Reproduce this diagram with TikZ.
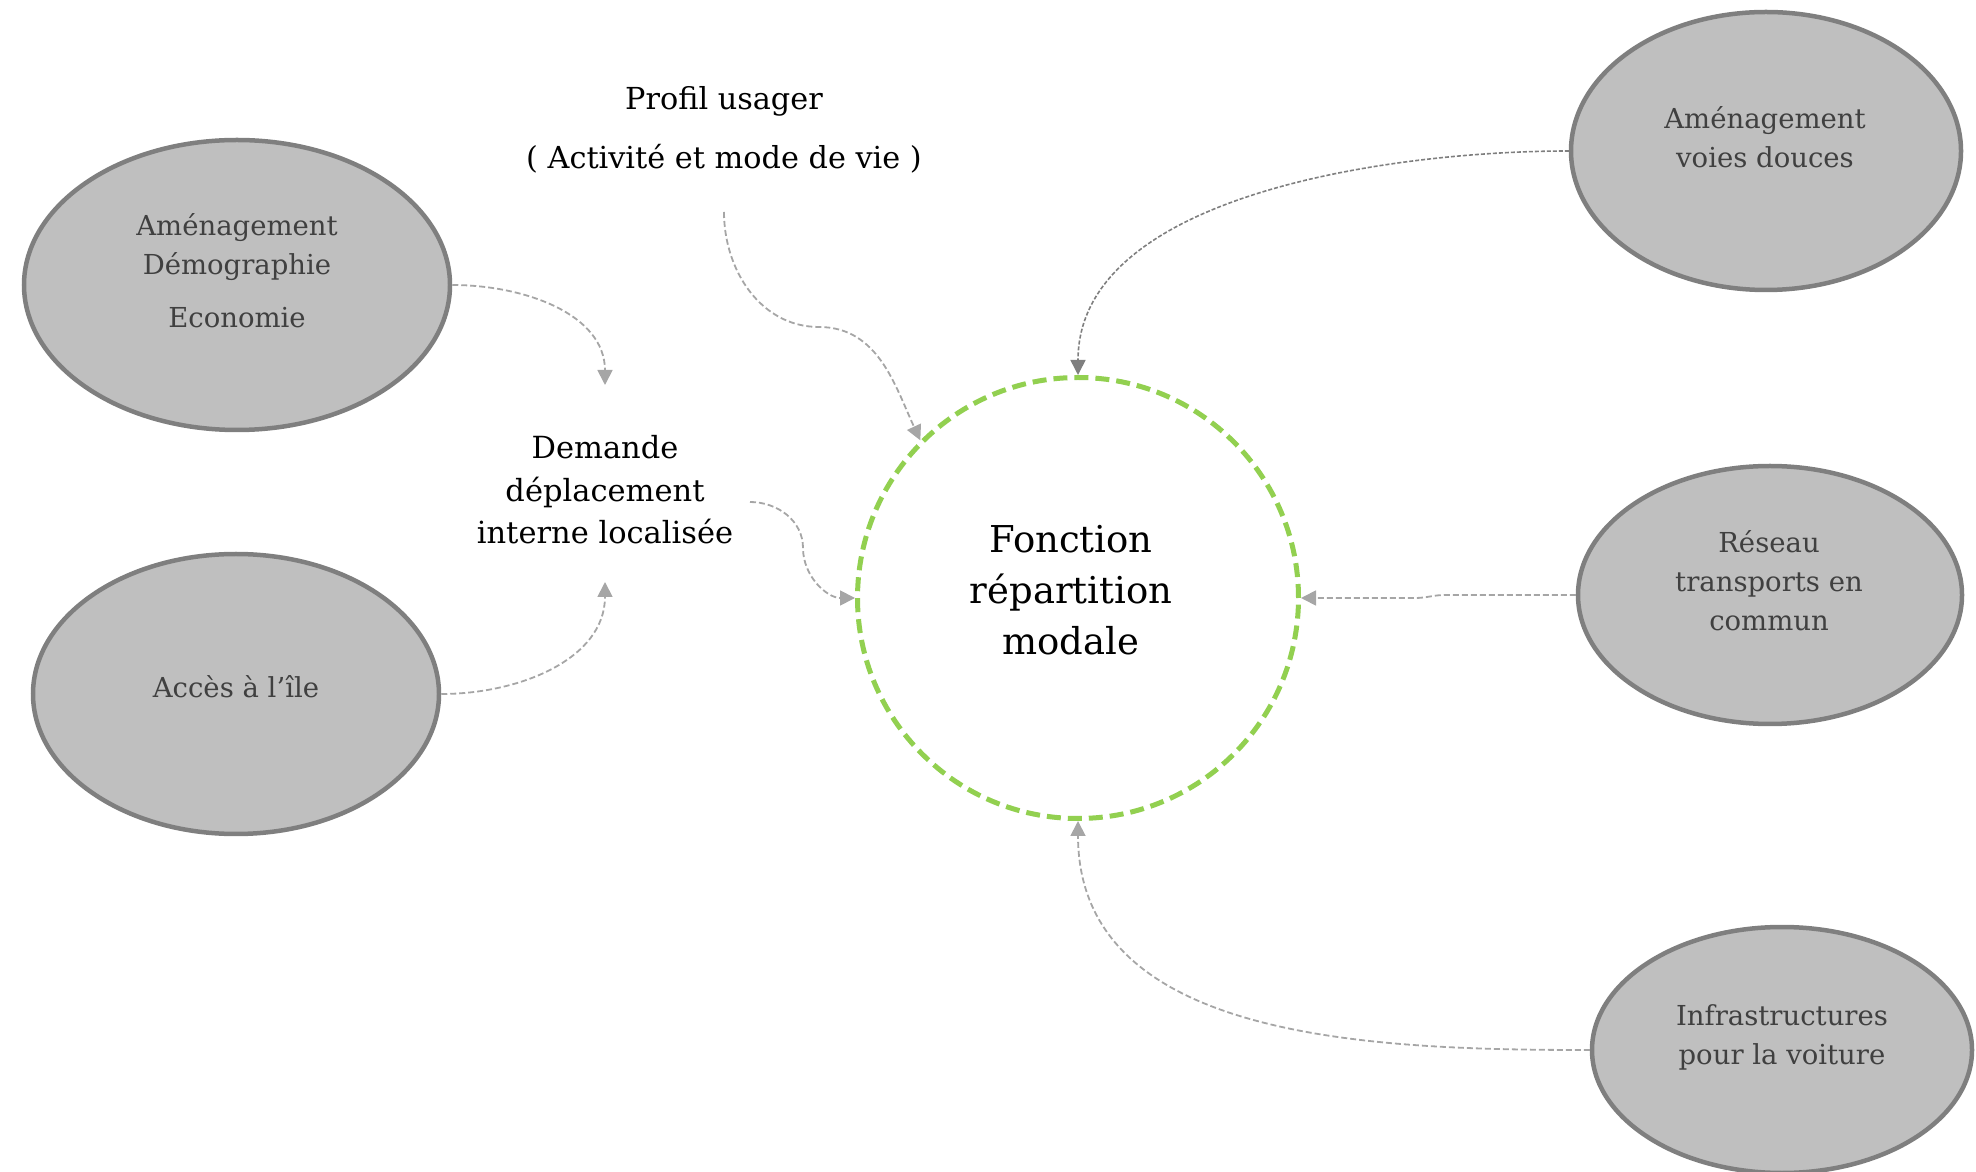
\documentclass[tikz,border=0pt]{standalone}
\usepackage{fontspec}
\setmainfont{DejaVu Serif}
\usetikzlibrary{shapes.geometric,arrows.meta}
\definecolor{bubblefill}{HTML}{BFBFBF}
\definecolor{bubbleline}{HTML}{7F7F7F}
\definecolor{bubbletext}{HTML}{404040}
\definecolor{ringgreen}{HTML}{92D050}
\definecolor{linkgray}{HTML}{A6A6A6}
\definecolor{linkdark}{HTML}{7F7F7F}
\begin{document}
\begin{tikzpicture}[x=1pt,y=1pt,
  bubble/.style={ellipse, draw=bubbleline, fill=bubblefill, line width=4.5pt, inner sep=0pt},
  bubbletxt/.style={align=center, text=bubbletext, inner sep=0pt,
    font=\fontsize{27.5}{39}\selectfont},
  plaintxt/.style={align=center, inner sep=0pt, font=\fontsize{30.5}{42.5}\selectfont},
  ring/.style={circle, draw=ringgreen, line width=5pt, dash pattern=on 14pt off 7pt,
    minimum size=441pt, inner sep=0pt},
  link/.style={draw=linkgray, line width=1.8pt, dash pattern=on 6pt off 3pt,
    -{Triangle[length=15pt,width=15pt]}},
  darklink/.style={link, draw=linkdark, line width=1.6pt, dash pattern=on 4pt off 2pt}
]
\clip (0,0) rectangle (1976,1171);

% outer factors
\node[bubble, minimum width=426pt, minimum height=290pt] (e1) at (237,886) {};
\node[bubble, minimum width=406pt, minimum height=280pt] (e2) at (236,477) {};
\node[bubble, minimum width=390pt, minimum height=278pt] (e3) at (1766,1020) {};
\node[bubble, minimum width=384pt, minimum height=258pt] (e4) at (1770,576) {};
\node[bubble, minimum width=380pt, minimum height=246pt] (e5) at (1782,121) {};

\node[bubbletxt] (t1) at (237,900) {Aménagement\\Démographie\\[14pt]Economie};
\node[bubbletxt] (t2) at (236,484) {Accès à l’île};
\node[bubbletxt] (t3) at (1765,1034) {Aménagement\\voies douces};
\node[bubbletxt] (t4) at (1769,590) {Réseau\\transports en\\commun};
\node[bubbletxt] (t5) at (1782,134) {Infrastructures\\pour la voiture};

% intermediate labels
\node[plaintxt] (dem) at (605,681) {Demande\\déplacement\\interne localisée};
\node[plaintxt, font=\fontsize{30.3}{59}\selectfont] (prof) at (724,1041)
  {Profil usager\\( Activité et mode de vie )};

% central function
\node[ring] (circ) at (1078,573) {};
\node[align=center, inner sep=0pt, font=\fontsize{37}{51}\selectfont] (fn) at (1071,581)
  {Fonction\\répartition\\modale};

% connector ends and bends next to the text labels
\coordinate (d1) at (605,786);
\coordinate (d2) at (605,589);
\coordinate (d3) at (750,669);
\coordinate (d4) at (803,623);
\coordinate (p1) at (724,959);
\coordinate (p2) at (819,844);
\coordinate (r1) at (1445,576);
\coordinate (r2) at (1415,573);

% connectors
\draw[link] (e1.east) to[out=0,in=90] (d1);
\draw[link] (e2.east) to[out=0,in=-90] (d2);
\draw[link] (d3) to[out=0,in=90] (d4) to[out=-90,in=180] (circ.west);
\draw[link] (p1) to[out=-90,in=180] (p2) to[out=0,in=115] (circ.135);
\draw[darklink] (e3.west) to[out=180,in=90,looseness=0.85] (circ.north);
\draw[link] (e4.west) -- (r1) to[out=180,in=0] (r2) -- (circ.east);
\draw[link] (e5.west) to[out=180,in=-90] (circ.south);
\end{tikzpicture}
\end{document}
